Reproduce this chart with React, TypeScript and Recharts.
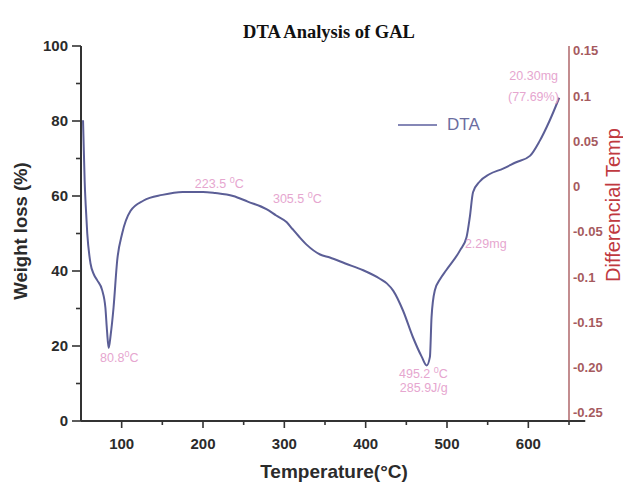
import {
  Legend,
  Line,
  LineChart,
  ReferenceDot,
  ReferenceLine,
  XAxis,
  YAxis,
} from "recharts";

// temperature (°C) and DTA trace, in weight-loss (%) units
const temps = [
  52.5, 53.5, 54.5, 55.8, 57.7, 61.7, 66, 70, 76, 80, 82, 84, 86.5, 90, 94.5, 100.6, 110.8, 127,
  150, 175, 200, 215, 237, 255, 278, 290, 303, 310, 318, 328, 344, 356, 375, 397, 417, 426, 434,
  446, 458, 469, 475, 479, 481, 485, 492, 499, 516, 524, 528, 532, 540, 552, 569, 585, 602, 614,
  626, 638,
];
const dtaValues = [
  80.2, 72, 64, 57.5, 50, 42, 39, 37.5, 34.9, 30.2, 24, 19.5, 23, 30.2, 42.8, 50, 56, 58.8, 60.3,
  61.1, 61.1, 60.8, 60.0, 58.5, 56.5, 54.8, 53.0, 51.2, 49.2, 46.9, 44.4, 43.6, 42, 40.2, 38,
  36.7, 34.7, 29.4, 22.4, 17.1, 14.8, 17.1, 27.7, 34.8, 38, 40.2, 45.5, 49, 54.3, 61, 63.8, 65.8,
  67.3, 69, 70.7, 74.7, 80, 86.2,
];

const xTicks = [100, 150, 200, 250, 300, 350, 400, 450, 500, 550, 600, 650];
const leftTicks = [0, 10, 20, 30, 40, 50, 60, 70, 80, 90, 100];
const rightTicks = [0.15, 0.1, 0.05, 0, -0.05, -0.1, -0.15, -0.2, -0.25];
const rightTickLabels = ["0.15", "0.1", "0.05", "0", "-0.05", "-0.1", "-0.15", "-0.20", "-0.25"];

// annotations: [temp, value, text before superscript, superscript, text after, anchor]
const notes: [number, number, string, string, string, "start" | "end"][] = [
  [73.4, 17, "80.8", "0", "C", "start"],
  [190, 63.4, "223.5 ", "0", "C", "start"],
  [286, 59.4, "305.5 ", "0", "C", "start"],
  [522, 47.4, "2.29mg", "", "", "start"],
  [441, 12.6, "495.2 ", "0", "C", "start"],
  [442, 9.0, "285.9J/g", "", "", "start"],
  [636.5, 92.2, "20.30mg", "", "", "end"],
  [637.5, 86.6, "(77.69%)", "", "", "end"],
];

const data = temps.map((t, i) => ({ t, dta: dtaValues[i] }));

const sans = "'Liberation Sans', Arial, sans-serif";
const lineColor = "#5b5e96";
const noteColor = "#e6a6cf";
const redAxis = "#b47073";

function XTick({ x, y, payload }: any) {
  const major = payload.value % 100 === 0;
  return (
    <g>
      <line x1={x} x2={x} y1={y - 1} y2={y + (major ? 7 : 4)} stroke="#333" strokeWidth={1.6} />
      {major && payload.value < 650 && (
        <text x={x} y={y + 28} textAnchor="middle" fontFamily={sans} fontSize={15} fontWeight="bold" fill="#2b2b2b">
          {payload.value}
        </text>
      )}
    </g>
  );
}

function LeftTick({ x, y, payload }: any) {
  const major = payload.value % 20 === 0;
  return (
    <g>
      <line x1={x - (major ? 9 : 5)} x2={x} y1={y} y2={y} stroke="#333" strokeWidth={1.6} />
      {major && (
        <text x={x - 13} y={y + 5} textAnchor="end" fontFamily={sans} fontSize={15} fontWeight="bold" fill="#2b2b2b">
          {payload.value}
        </text>
      )}
    </g>
  );
}

function RightTick({ x, y, payload, index }: any) {
  return (
    <text x={x + 4} y={y + 5} textAnchor="start" fontFamily={sans} fontSize={13} fontWeight="bold" fill="#a65a5e">
      {rightTickLabels[index] ?? payload.value}
    </text>
  );
}

function noteLabel(n: (typeof notes)[number]) {
  return (props: any) => {
    const vb = props.viewBox || {};
    const cx = vb.x + (vb.width || 0) / 2;
    const cy = vb.y + (vb.height || 0) / 2;
    return (
      <text x={cx} y={cy + 4.5} textAnchor={n[5]} fontFamily={sans} fontSize={12.5} fill={noteColor}>
        {n[2]}
        {n[3] && (
          <tspan dy={-5} fontSize={9}>
            {n[3]}
          </tspan>
        )}
        {n[4] && <tspan dy={5}>{n[4]}</tspan>}
      </text>
    );
  };
}

function LegendBox() {
  return (
    <div style={{ display: "flex", alignItems: "center", fontFamily: sans, fontSize: 17, color: "#6b6d9f" }}>
      <span style={{ display: "inline-block", width: 39, height: 1.5, background: "#8587b6", marginRight: 10 }} />
      DTA
    </div>
  );
}

export default function App() {
  return (
    <div style={{ position: "absolute", left: 0, top: 0, width: 623, height: 489, background: "#fff" }}>
      <LineChart width={623} height={489} data={data} margin={{ top: 46, right: 0, bottom: 0, left: 21 }}>
        <XAxis
          dataKey="t"
          type="number"
          domain={[50, 650]}
          ticks={xTicks}
          tick={<XTick />}
          tickLine={false}
          tickSize={0}
          tickMargin={0}
          axisLine={{ stroke: "#333", strokeWidth: 2 }}
          height={68}
        />
        <YAxis
          yAxisId="left"
          type="number"
          domain={[0, 100]}
          ticks={leftTicks}
          tick={<LeftTick />}
          tickLine={false}
          tickSize={0}
          tickMargin={0}
          axisLine={{ stroke: "#333", strokeWidth: 2 }}
          width={60}
        />
        <YAxis
          yAxisId="right"
          orientation="right"
          type="number"
          domain={[-0.2596, 0.1548]}
          ticks={rightTicks}
          tick={<RightTick />}
          tickLine={false}
          tickSize={0}
          tickMargin={0}
          axisLine={{ stroke: redAxis, strokeWidth: 1.6 }}
          width={54}
          allowDataOverflow
        />
        <ReferenceLine
          yAxisId="left"
          segment={[
            { x: 650, y: 0 },
            { x: 670, y: 0 },
          ]}
          stroke="#333"
          strokeWidth={2}
          ifOverflow="visible"
        />
        <Line
          yAxisId="left"
          type="monotone"
          dataKey="dta"
          name="DTA"
          stroke={lineColor}
          strokeWidth={2}
          dot={false}
          isAnimationActive={false}
        />
        {notes.map((n) => (
          <ReferenceDot
            key={n[2] + n[0]}
            yAxisId="left"
            x={n[0]}
            y={n[1]}
            r={0}
            fill="none"
            stroke="none"
            ifOverflow="visible"
            label={{ content: noteLabel(n) }}
          />
        ))}
        <Legend
          layout="horizontal"
          verticalAlign="middle"
          align="center"
          content={<LegendBox />}
          wrapperStyle={{ position: "absolute", left: 398, top: 115, width: 90 }}
        />
      </LineChart>
      <svg width={623} height={489} style={{ position: "absolute", left: 0, top: 0, pointerEvents: "none" }}>
        <text x={329} y={38} textAnchor="middle" fontFamily="'Liberation Serif', 'Times New Roman', serif" fontSize={18.5} fontWeight="bold" fill="#111">
          DTA Analysis of GAL
        </text>
        <text x={27} y={231} transform="rotate(-90 27 231)" textAnchor="middle" fontFamily={sans} fontSize={18.5} fontWeight="bold" fill="#2b2b2b">
          Weight loss (%)
        </text>
        <text x={334} y={478} textAnchor="middle" fontFamily={sans} fontSize={19} fontWeight="bold" fill="#2b2b2b">
          Temperature(°C)
        </text>
        <text x={620} y={205} transform="rotate(-90 620 205)" textAnchor="middle" fontFamily={sans} fontSize={20} fill="#c0393f">
          Differencial Temp
        </text>
      </svg>
    </div>
  );
}
